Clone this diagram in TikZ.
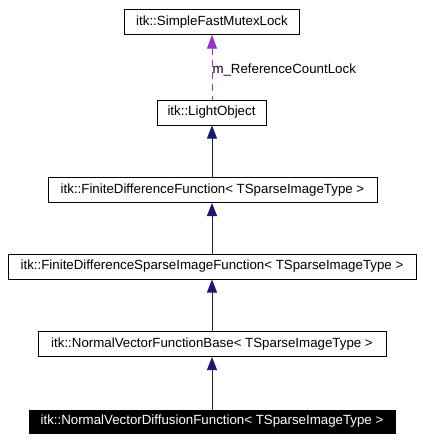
\documentclass[tikz,border=0pt]{standalone}
\usepackage{fontspec}
\setmainfont{Liberation Sans}
\usetikzlibrary{arrows.meta}
\definecolor{edgeblue}{HTML}{191970}
\definecolor{edgepurple}{HTML}{9A32CD}
\tikzstyle{classbox} = [draw=black, fill=white, line width=1pt,
    rectangle, inner sep=0pt, minimum height=25pt, font=\fontsize{13.3}{16}\selectfont]
\tikzstyle{currentbox} = [classbox, fill=black, text=white, minimum height=23pt]
\tikzstyle{inherit} = [draw=edgeblue, line width=1pt,
    {Triangle[length=13pt, width=10pt, fill=edgeblue]}-]
\tikzstyle{usage} = [draw=edgepurple, line width=1pt, dash pattern=on 7pt off 5pt,
    {Triangle[length=14pt, width=10pt, fill=edgepurple]}-]

\begin{document}
\begin{tikzpicture}[x=1pt, y=-1pt]
                \useasboundingbox (0,0) rectangle (423,442);
                \node [classbox, minimum width=175pt] (mutexlock) at (212,21.7) {itk::SimpleFastMutexLock};
                \node [classbox, minimum width=109pt] (lightobject) at (211.5,112.5) {itk::LightObject};
                \node [classbox, minimum width=329pt] (fdfunction) at (212.5,190) {itk::FiniteDifferenceFunction< TSparseImageType >};
                \node [classbox, minimum width=408pt] (fdsparse) at (212,266.5) {itk::FiniteDifferenceSparseImageFunction< TSparseImageType >};
                \node [classbox, minimum width=348pt] (nvbase) at (212,344) {itk::NormalVectorFunctionBase< TSparseImageType >};
                \node [currentbox, minimum width=366pt] (nvdiffusion) at (212,421.5) {itk::NormalVectorDiffusionFunction< TSparseImageType >};

                \draw [usage] (mutexlock.south -| 212,0) -- (lightobject.north -| 212,0)
                    node [pos=0.55, anchor=west, inner sep=0pt, font=\fontsize{13.3}{16}\selectfont] (reflock) {m\_ReferenceCountLock};
                \draw [inherit] (lightobject.south -| 212,0) -- (fdfunction.north -| 212,0);
                \draw [inherit] (fdfunction.south -| 212,0) -- (fdsparse.north -| 212,0);
                \draw [inherit] (fdsparse.south -| 212,0) -- (nvbase.north -| 212,0);
                \draw [inherit] (nvbase.south -| 212,0) -- (nvdiffusion.north -| 212,0);
            \end{tikzpicture}
\end{document}
